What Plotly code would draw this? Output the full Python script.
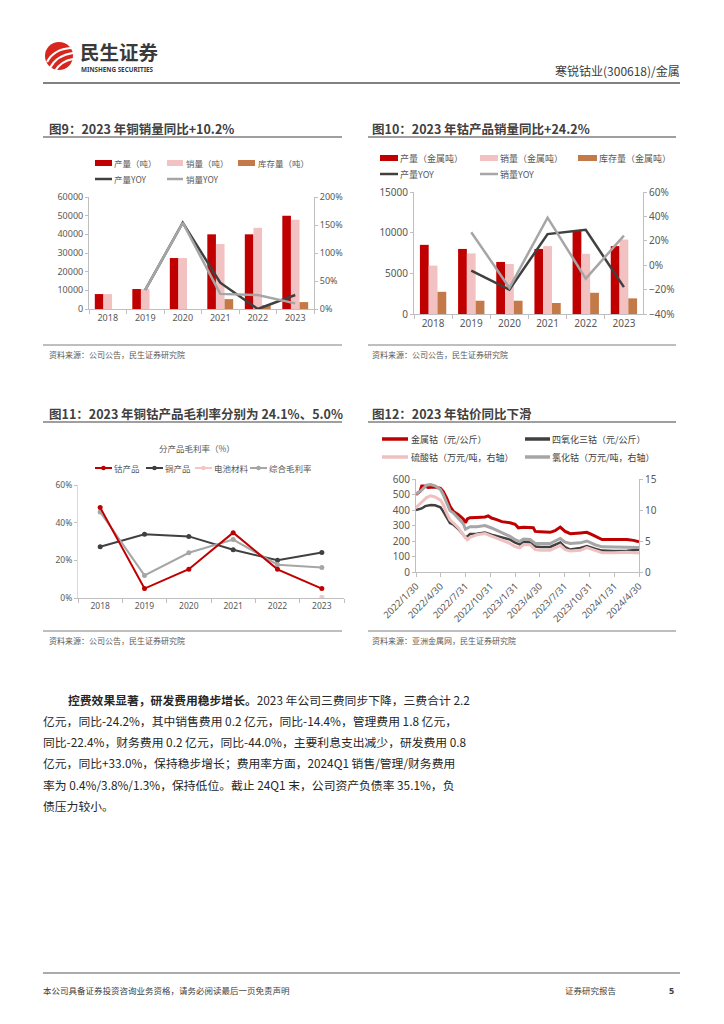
import plotly.graph_objects as go

W, H = 724, 1024
def px(x): return x / W
def py(y): return 1 - y / H

# ---------------- data ----------------
years = ["2018", "2019", "2020", "2021", "2022", "2023"]

cu_output = [8000, 10700, 27300, 40000, 40000, 50000]
cu_sales = [8000, 10700, 27300, 34800, 43500, 47800]
cu_stock = [0, 0, 0, 5300, 2000, 3700]
cu_output_yoy = [None, 0.34, 1.54, 0.47, 0.0, 0.25]
cu_sales_yoy = [None, 0.34, 1.54, 0.27, 0.25, 0.10]

co_output = [8500, 8000, 6400, 8000, 10200, 8350]
co_sales = [5950, 7450, 6150, 8350, 7400, 9150]
co_stock = [2730, 1630, 1630, 1350, 2610, 1920]
co_output_yoy = [None, -0.045, -0.20, 0.255, 0.29, -0.18]
co_sales_yoy = [None, 0.27, -0.185, 0.39, -0.11, 0.242]

gm_cobalt = [0.48, 0.05, 0.153, 0.347, 0.152, 0.05]
gm_copper = [0.272, 0.338, 0.327, 0.256, 0.20, 0.241]
gm_battery = [None, None, None, None, None, 0.004]
gm_total = [0.457, 0.12, 0.24, 0.31, 0.177, 0.162]

metal_dates = ["2022-01-30", "2022-02-14", "2022-02-20", "2022-03-01", "2022-03-16", "2022-04-10",
               "2022-04-30", "2022-05-10", "2022-05-23", "2022-06-04", "2022-06-17", "2022-07-05",
               "2022-07-23", "2022-07-31", "2022-08-07", "2022-08-17", "2022-09-11", "2022-10-11",
               "2022-10-23", "2022-11-04", "2022-11-23", "2022-12-12", "2023-01-11", "2023-01-30",
               "2023-02-11", "2023-03-02", "2023-04-07", "2023-04-14", "2023-05-02", "2023-06-08",
               "2023-06-26", "2023-07-15", "2023-08-02", "2023-08-21", "2023-09-27", "2023-10-21",
               "2023-11-09", "2023-12-03", "2023-12-16", "2024-01-27", "2024-03-17", "2024-04-10",
               "2024-04-30"]
metal_cobalt = [500, 520, 555, 555, 545, 548, 540, 520, 477, 424, 391, 370, 342, 318, 342, 350,
                352, 355, 362, 348, 338, 325, 318, 308, 285, 288, 285, 262, 260, 256, 267, 290,
                262, 247, 252, 256, 241, 219, 209, 209, 210, 204, 195]

oxide_dates = ["2022-01-30", "2022-02-20", "2022-03-05", "2022-03-25", "2022-04-10", "2022-04-30",
               "2022-05-10", "2022-05-23", "2022-06-04", "2022-06-17", "2022-07-05", "2022-07-23",
               "2022-07-31", "2022-08-07", "2022-08-17", "2022-09-11", "2022-10-11", "2022-11-04",
               "2022-12-12", "2023-01-11", "2023-01-30", "2023-02-16", "2023-03-02", "2023-03-26",
               "2023-04-14", "2023-05-02", "2023-06-08", "2023-07-15", "2023-08-02", "2023-08-21",
               "2023-09-27", "2023-10-21", "2023-11-20", "2023-12-16", "2024-01-27", "2024-03-17",
               "2024-04-30"]
cobalt_oxide = [400, 410, 425, 432, 430, 418, 391, 348, 316, 305, 277, 241, 222, 230, 245, 247,
                255, 241, 224, 209, 190, 178, 195, 190, 165, 162, 162, 190, 160, 145, 155, 168,
                150, 138, 136, 137, 143]

sulfate_dates = ["2022-01-30", "2022-02-20", "2022-03-10", "2022-03-25", "2022-04-10", "2022-04-30",
                 "2022-05-10", "2022-05-23", "2022-06-04", "2022-06-17", "2022-07-05", "2022-07-23",
                 "2022-08-07", "2022-08-17", "2022-09-11", "2022-10-11", "2022-11-04", "2022-12-12",
                 "2023-01-11", "2023-01-30", "2023-02-16", "2023-03-02", "2023-03-26", "2023-04-14",
                 "2023-05-02", "2023-06-08", "2023-07-15", "2023-08-02", "2023-08-21", "2023-09-27",
                 "2023-10-21", "2023-11-20", "2023-12-16", "2024-01-27", "2024-03-17", "2024-04-30"]
cobalt_sulfate = [10.4, 11.2, 12.0, 12.3, 12.1, 11.6, 10.9, 9.5, 8.4, 7.9, 7.1, 6.0, 5.2, 5.6, 6.0,
                  6.2, 5.8, 5.2, 4.6, 4.1, 3.9, 4.4, 4.4, 3.6, 3.5, 3.5, 4.3, 3.6, 3.4, 3.5, 3.95,
                  3.5, 3.1, 3.1, 3.2, 3.05]

chloride_dates = ["2022-01-30", "2022-02-20", "2022-03-10", "2022-03-25", "2022-04-10", "2022-04-30",
                  "2022-05-10", "2022-05-23", "2022-06-04", "2022-06-17", "2022-07-05", "2022-07-23",
                  "2022-07-31", "2022-08-17", "2022-09-11", "2022-10-11", "2022-11-04", "2022-12-12",
                  "2023-01-11", "2023-01-30", "2023-02-16", "2023-03-02", "2023-03-26", "2023-04-14",
                  "2023-06-08", "2023-07-15", "2023-08-02", "2023-08-21", "2023-09-27", "2023-10-21",
                  "2023-11-20", "2023-12-16", "2024-01-27", "2024-03-17", "2024-04-30"]
cobalt_chloride = [12.6, 13.2, 14.0, 14.1, 13.9, 13.3, 12.5, 11.1, 9.9, 9.5, 8.7, 7.8, 6.9, 7.3, 7.3,
                   7.5, 7.1, 6.4, 5.75, 5.2, 4.9, 5.3, 5.25, 4.6, 4.6, 5.4, 4.8, 4.6, 4.7, 5.0, 4.4,
                   4.06, 4.06, 4.0, 3.95]

date_ticks = ["2022-01-30", "2022-04-30", "2022-07-31", "2022-10-31", "2023-01-31", "2023-04-30",
              "2023-07-31", "2023-10-31", "2024-01-31", "2024-04-30"]
date_labels = ["2022/1/30", "2022/4/30", "2022/7/31", "2022/10/31", "2023/1/31", "2023/4/30",
               "2023/7/31", "2023/10/31", "2024/1/31", "2024/4/30"]

body_lines = [
    "<b>控费效果显著，研发费用稳步增长。</b>2023 年公司三费同步下降，三费合计 2.2",
    "亿元，同比-24.2%，其中销售费用 0.2 亿元，同比-14.4%，管理费用 1.8 亿元，",
    "同比-22.4%，财务费用 0.2 亿元，同比-44.0%，主要利息支出减少，研发费用 0.8",
    "亿元，同比+33.0%，保持稳步增长；费用率方面，2024Q1 销售/管理/财务费用",
    "率为 0.4%/3.8%/1.3%，保持低位。截止 24Q1 末，公司资产负债率 35.1%，负",
    "债压力较小。",
]

# ---------------- style ----------------
CJK = "Noto Sans CJK SC"
NUM = "Noto Sans"
RED = "#C00000"
PINK = "#F2C2C2"
BROWN = "#C47A48"
DARK = "#404040"
GREY = "#A6A6A6"
AXC = "#BFBFBF"
TXT = "#595959"

fig = go.Figure()

# chart 9
fig.add_trace(go.Bar(x=years, y=cu_output, marker=dict(color=RED, line_width=0), xaxis="x", yaxis="y"))
fig.add_trace(go.Bar(x=years, y=cu_sales, marker=dict(color=PINK, line_width=0), xaxis="x", yaxis="y"))
fig.add_trace(go.Bar(x=years, y=cu_stock, marker=dict(color=BROWN, line_width=0), xaxis="x", yaxis="y"))
fig.add_trace(go.Scatter(x=years, y=cu_output_yoy, mode="lines", line=dict(color=DARK, width=2.5), xaxis="x", yaxis="y2"))
fig.add_trace(go.Scatter(x=years, y=cu_sales_yoy, mode="lines", line=dict(color=GREY, width=2.5), xaxis="x", yaxis="y2"))

# chart 10
fig.add_trace(go.Bar(x=years, y=co_output, marker=dict(color=RED, line_width=0), xaxis="x2", yaxis="y3"))
fig.add_trace(go.Bar(x=years, y=co_sales, marker=dict(color=PINK, line_width=0), xaxis="x2", yaxis="y3"))
fig.add_trace(go.Bar(x=years, y=co_stock, marker=dict(color=BROWN, line_width=0), xaxis="x2", yaxis="y3"))
fig.add_trace(go.Scatter(x=years, y=co_output_yoy, mode="lines", line=dict(color=DARK, width=2.5), xaxis="x2", yaxis="y4"))
fig.add_trace(go.Scatter(x=years, y=co_sales_yoy, mode="lines", line=dict(color=GREY, width=2.5), xaxis="x2", yaxis="y4"))

# chart 11
fig.add_trace(go.Scatter(x=years, y=gm_copper, mode="lines+markers", line=dict(color=DARK, width=2),
                         marker=dict(size=5, color=DARK), xaxis="x3", yaxis="y5"))
fig.add_trace(go.Scatter(x=years, y=gm_total, mode="lines+markers", line=dict(color=GREY, width=2),
                         marker=dict(size=5, color=GREY), xaxis="x3", yaxis="y5"))
fig.add_trace(go.Scatter(x=years, y=gm_cobalt, mode="lines+markers", line=dict(color=RED, width=2),
                         marker=dict(size=5, color=RED), xaxis="x3", yaxis="y5"))
fig.add_trace(go.Scatter(x=years, y=gm_battery, mode="lines+markers", line=dict(color="#F4C6C6", width=2),
                         marker=dict(size=5, color="#F4C6C6"), xaxis="x3", yaxis="y5"))

# chart 12
fig.add_trace(go.Scatter(x=metal_dates, y=metal_cobalt, mode="lines", line=dict(color=RED, width=3), xaxis="x4", yaxis="y6"))
fig.add_trace(go.Scatter(x=oxide_dates, y=cobalt_oxide, mode="lines", line=dict(color=DARK, width=2.5), xaxis="x4", yaxis="y6"))
fig.add_trace(go.Scatter(x=sulfate_dates, y=cobalt_sulfate, mode="lines", line=dict(color="#F0C0C0", width=3), xaxis="x4", yaxis="y7"))
fig.add_trace(go.Scatter(x=chloride_dates, y=cobalt_chloride, mode="lines", line=dict(color=GREY, width=3), xaxis="x4", yaxis="y7"))

tf = dict(family=NUM, size=9, color=TXT)
common = dict(showgrid=False, zeroline=False, showline=True, linecolor=AXC, linewidth=1, automargin=False,
              ticks="outside", tickcolor=AXC, ticklen=3, tickfont=tf)
tf10 = dict(family=NUM, size=10, color=TXT)

fig.update_layout(
    template="none",
    width=W, height=H, autosize=False, margin=dict(l=0, r=0, t=0, b=0, pad=0),
    paper_bgcolor="white", plot_bgcolor="white", showlegend=False, hovermode=False,
    barmode="group", bargap=0.31, bargroupgap=0,
    xaxis=dict(domain=[px(89), px(314)], anchor="y", type="category", range=[-0.5, 5.5],
               tickson="boundaries", **{**common, "ticklen": 4}),
    yaxis=dict(domain=[py(309), py(197)], anchor="x", range=[0, 60000], dtick=10000, tickformat="d", **common),
    yaxis2=dict(overlaying="y", anchor="x", side="right", range=[0, 2], dtick=0.5, tickformat=".0%", **common),
    xaxis2=dict(domain=[px(414), px(643)], anchor="y3", type="category", range=[-0.5, 5.5],
                tickson="boundaries", **{**common, "ticklen": 4, "tickfont": tf10}),
    yaxis3=dict(domain=[py(314), py(192)], anchor="x2", range=[0, 15000], dtick=5000, tickformat="d",
                **{**common, "tickfont": tf10}),
    yaxis4=dict(overlaying="y3", anchor="x2", side="right", range=[-0.4, 0.6], dtick=0.2, tickformat=".0%",
                **{**common, "tickfont": tf10}),
    xaxis3=dict(domain=[px(78), px(344)], anchor="y5", type="category", range=[-0.5, 5.5],
                tickson="boundaries", **{**common, "ticklen": 4, "tickfont": dict(family=NUM, size=8.5, color=TXT)}),
    yaxis5=dict(domain=[py(598), py(485)], anchor="x3", range=[0, 0.6], dtick=0.2, tickformat=".0%",
                **{**common, "linecolor": "#D9D9D9", "tickfont": dict(family=NUM, size=8.5, color=TXT)}),
    xaxis4=dict(domain=[px(416), px(639)], anchor="y6", type="date", range=["2022-01-30", "2024-04-30"],
                tickmode="array", tickvals=date_ticks, ticktext=date_labels, tickangle=-45,
                **{**common, "ticklen": 4, "tickfont": dict(family=NUM, size=9.5, color=TXT)}),
    yaxis6=dict(domain=[py(572), py(479)], anchor="x4", range=[0, 600], dtick=100,
                **{**common, "tickfont": tf10}),
    yaxis7=dict(overlaying="y6", anchor="x4", side="right", range=[0, 15], dtick=5,
                **{**common, "tickfont": tf10}),
)

shapes = []
annotations = []

def text(x, y, s, size=9, color=TXT, xanchor="left", family=CJK):
    annotations.append(dict(x=px(x), y=py(y), xref="paper", yref="paper", text=s, showarrow=False,
                            xanchor=xanchor, yanchor="middle", borderpad=0,
                            font=dict(family=family, size=size, color=color)))

def line(x0, y0, x1, y1, color, width=1):
    shapes.append(dict(type="line", xref="paper", yref="paper", x0=px(x0), y0=py(y0), x1=px(x1), y1=py(y1),
                       line=dict(color=color, width=width)))

def rect(x0, y0, x1, y1, color):
    shapes.append(dict(type="rect", xref="paper", yref="paper", x0=px(x0), y0=py(y0), x1=px(x1), y1=py(y1),
                       fillcolor=color, line=dict(width=0)))

def dot(x, y, r, color):
    shapes.append(dict(type="circle", xref="paper", yref="paper", x0=px(x - r), y0=py(y + r), x1=px(x + r),
                       y1=py(y - r), fillcolor=color, line=dict(width=0)))

def curve(pts, color, width):
    (a, b), (c, d), (e, f) = pts
    path = f"M {px(a)},{py(b)} Q {px(c)},{py(d)} {px(e)},{py(f)}"
    shapes.append(dict(type="path", xref="paper", yref="paper", path=path, line=dict(color=color, width=width)))

# header
dot(59, 56, 14, "#D8261F")
curve([(47, 62), (54, 49), (71, 48)], "white", 2.2)
curve([(50, 68), (57, 55), (73, 53)], "white", 2.2)
curve([(55, 71), (61, 61), (73, 59)], "white", 2.2)
text(79, 51, "<b>民生证券</b>", size=19.5, color="#3A3A3A")
text(80, 69.5, "<b>MINSHENG SECURITIES</b>", size=6.3, color="#3A3A3A", family=NUM)
text(681, 70, "寒锐钴业(300618)/金属", size=12, color="#404040", xanchor="right")
line(43, 83, 680, 83, "#595959", 1.5)

# chart titles & rules
TITLE = "#404040"
text(48, 128, "<b>图9：2023 年铜销量同比+10.2%</b>", size=12.5, color=TITLE)
text(371, 128, "<b>图10：2023 年钴产品销量同比+24.2%</b>", size=12.5, color=TITLE)
text(48, 413, "<b>图11：2023 年铜钴产品毛利率分别为 24.1%、5.0%</b>", size=12.5, color=TITLE)
text(371, 413, "<b>图12：2023 年钴价同比下滑</b>", size=12.5, color=TITLE)
for yy in (137, 422):
    line(43, yy, 342, yy, "#7F7F7F", 1.3)
    line(368, yy, 676, yy, "#7F7F7F", 1.3)
for yy in (345, 631):
    line(43, yy, 342, yy, "#7F7F7F", 1)
    line(368, yy, 676, yy, "#7F7F7F", 1)
text(48, 354, "资料来源：公司公告，民生证券研究院", size=8, color=TXT)
text(371, 354, "资料来源：公司公告，民生证券研究院", size=8, color=TXT)
text(48, 640, "资料来源：公司公告，民生证券研究院", size=8, color=TXT)
text(371, 640, "资料来源：亚洲金属网，民生证券研究院", size=8, color=TXT)

# chart 9 legend
rect(95, 160, 112, 166, RED); text(113, 163, "产量（吨）", 8.5)
rect(167, 160, 183, 166, PINK); text(185, 163, "销量（吨）", 8.5)
rect(238, 160, 255, 166, BROWN); text(257, 163, "库存量（吨）", 8.5)
line(95, 179, 112, 179, DARK, 2.5); text(113, 179, "产量YOY", 8.5)
line(167, 179, 183, 179, GREY, 2.5); text(185, 179, "销量YOY", 8.5)

# chart 10 legend
rect(380, 155, 398, 161, RED); text(399, 158, "产量（金属吨）", 9)
rect(480, 155, 498, 161, PINK); text(499, 158, "销量（金属吨）", 9)
rect(578, 155, 597, 161, BROWN); text(598, 158, "库存量（金属吨）", 9)
line(380, 174, 398, 174, DARK, 2.5); text(399, 174, "产量YOY", 9)
line(480, 174, 498, 174, GREY, 2.5); text(499, 174, "销量YOY", 9)

# chart 11 subtitle & legend
text(197, 448, "分产品毛利率（%）", 8.5, xanchor="center")
for x0, col, lab in ((95, RED, "钴产品"), (146, DARK, "铜产品"), (195, "#F4C6C6", "电池材料"), (250, GREY, "综合毛利率")):
    line(x0, 468, x0 + 17, 468, col, 2)
    dot(x0 + 8.5, 468, 2.3, col)
    text(x0 + 18, 468, lab, 8.5)

# chart 12 legend
line(382, 439, 408, 439, RED, 3.5); text(410, 439, "金属钴（元/公斤）", 9, color=DARK)
line(525, 439, 550, 439, DARK, 3.5); text(551, 439, "四氧化三钴（元/公斤）", 9, color=DARK)
line(382, 457, 408, 457, "#F0C0C0", 3.5); text(410, 457, "硫酸钴（万元/吨，右轴）", 9, color=DARK)
line(525, 457, 550, 457, GREY, 3.5); text(551, 457, "氯化钴（万元/吨，右轴）", 9, color=DARK)

# body text
for i, s in enumerate(body_lines):
    x0 = 67 if i == 0 else 42
    text(x0, 699 + 21.3 * i, s, 11.8, color="#262626")

# footer
line(43, 973, 680, 973, "#595959", 1.2)
text(42, 990, "本公司具备证券投资咨询业务资格，请务必阅读最后一页免责声明", 8.5, color="#404040")
text(564, 990, "证券研究报告", 8.5, color="#404040")
text(675, 990, "<b>5</b>", 9, color="#404040", xanchor="right", family=NUM)

fig.update_layout(shapes=shapes, annotations=annotations)
fig.write_html("out.html", config={"displayModeBar": False, "staticPlot": True},
               post_script="document.body.style.margin='0';document.body.style.padding='0';")
